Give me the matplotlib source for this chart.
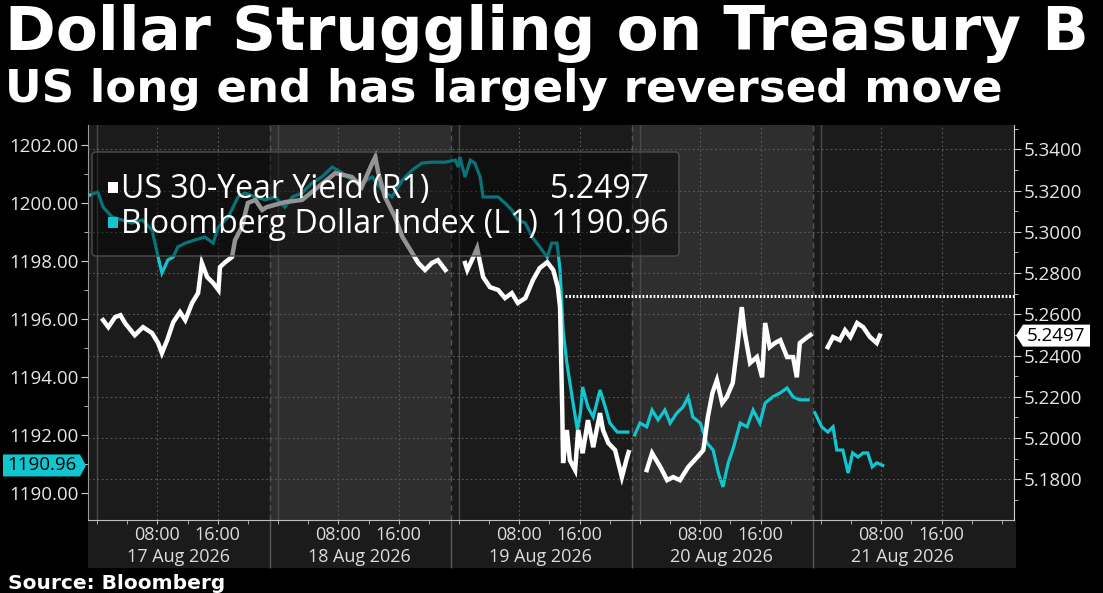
import numpy as np
import matplotlib
matplotlib.use("Agg")
from matplotlib import pyplot as plt
from matplotlib import transforms
from matplotlib.patches import Rectangle, FancyBboxPatch, Polygon
from matplotlib.ticker import MultipleLocator, FormatStrFormatter

plt.rcParams['font.family'] = ['Open Sans', 'DejaVu Sans']

nan = float("nan")

# hours since 17 Aug 2026 00:00
yield_hours = [0.8, 1.5, 2.4, 3.1, 3.7, 5.0, 6.1, 7.3, 8.1, 8.6, 9.3, 10.1, 11.0, 11.7,
               12.6, 13.4, 13.9, 14.6, 15.4, 16.1, 16.3, 17.0, 17.9, 18.3, 19.2, 20.0,
               21.0, 21.9, 22.5, 24.9, 27.2, 29.3, 31.6, 33.8, 35.1, 36.5, 36.9, 37.3,
               38.2, 39.5, 40.5, 41.8, 42.6, 43.5, 44.4, 45.2, 46.2,
               47.5,
               48.8, 49.1, 49.9, 50.4, 50.8, 51.2, 52.1, 53.2, 54.1, 55.0, 55.8, 56.8,
               57.8, 58.7, 59.7, 60.5, 61.1, 61.4, 61.7, 61.8, 62.3, 62.7, 63.4, 63.8,
               64.4, 65.1, 65.8, 66.7, 67.1, 67.8, 68.7, 69.6, 70.3, 70.5,
               71.5,
               72.9, 73.6, 74.7, 75.6, 76.4, 77.3, 78.4, 79.6, 80.4, 81.0, 81.6, 82.2,
               82.9, 83.5, 84.3, 84.9, 85.5, 85.9, 86.6, 87.5, 88.2, 88.6, 89.2, 89.9,
               90.6, 91.5, 92.3, 92.8, 93.2, 94.2, 94.6,
               95.5,
               96.9, 97.6, 98.5, 99.2, 99.9, 100.8, 101.6, 102.5, 103.4, 103.8]
yield_vals = [5.2572, 5.2538, 5.2587, 5.2596, 5.2558, 5.2499, 5.2538, 5.2509, 5.2461,
              5.2412, 5.2475, 5.2562, 5.2611, 5.2572, 5.2655, 5.2703, 5.2849, 5.2781,
              5.2752, 5.2718, 5.2829, 5.2853, 5.2878, 5.2960, 5.3023, 5.3140, 5.3155,
              5.3106, 5.3120, 5.3144, 5.3155, 5.3217, 5.3285, 5.3266, 5.3217, 5.3333,
              5.3363, 5.3285, 5.3168, 5.3072, 5.2975, 5.2897, 5.2849, 5.2815, 5.2849,
              5.2863, 5.2815,
              nan,
              5.2849, 5.2815, 5.2878, 5.2921, 5.2849, 5.2781, 5.2732, 5.2718, 5.2679,
              5.2703, 5.2655, 5.2679, 5.2766, 5.2824, 5.2853, 5.2815, 5.2732, 5.2635,
              5.2121, 5.1879, 5.2039, 5.1893, 5.1845, 5.2039, 5.1927, 5.2087, 5.1956,
              5.2121, 5.2039, 5.1976, 5.1942, 5.1811, 5.1908, 5.1932,
              nan,
              5.1845, 5.1927, 5.1860, 5.1796, 5.1811, 5.1796, 5.1860, 5.1908, 5.1942,
              5.2102, 5.2218, 5.2281, 5.2170, 5.2199, 5.2267, 5.2441, 5.2635, 5.2509,
              5.2364, 5.2393, 5.2295, 5.2558, 5.2441, 5.2461, 5.2475, 5.2393, 5.2393,
              5.2295, 5.2461, 5.2490, 5.2500,
              nan,
              5.2441, 5.2490, 5.2475, 5.2523, 5.2490, 5.2558, 5.2538, 5.2490, 5.2461,
              5.2497]

usd_hours = [-0.9, 0.1, 0.8, 2.0, 3.3, 4.6, 6.0, 7.3, 8.1, 8.6, 9.4, 10.1, 10.7, 11.7,
             13.0, 14.3, 15.4, 16.1, 17.4, 18.7, 19.6, 21.0, 22.3, 23.6, 24.9, 25.9,
             27.2, 28.5, 29.8, 31.2, 32.5, 33.8, 35.1, 36.5, 37.8, 39.1, 40.5, 41.8,
             43.1, 44.4, 46.2, 47.5, 47.9, 48.1, 48.8, 49.5, 50.1, 50.8, 51.2, 52.1,
             53.2, 54.1, 55.0, 55.8, 56.8, 57.7, 58.7, 59.7, 60.3, 61.0, 61.4, 61.8,
             62.3, 63.0, 63.7, 64.1, 64.4, 65.1, 65.8, 66.7, 67.4, 68.0, 69.0, 70.4,
             70.9,
             71.3, 72.0, 72.9, 73.6, 74.4, 75.3, 76.0, 76.9, 77.7, 78.4, 79.0, 80.0,
             80.9, 81.7, 82.4, 83.0, 83.7, 84.3, 85.3, 86.2, 87.0, 87.9, 88.6, 89.6,
             90.6, 91.5, 92.3, 93.2, 94.3,
             94.8,
             95.2, 96.1, 96.9, 97.6, 98.1, 98.9, 99.6, 100.2, 100.9, 101.6, 102.2,
             102.8, 103.4, 104.2]
usd_vals = [1200.28, 1200.38, 1199.86, 1199.52, 1199.42, 1199.31, 1199.42, 1199.07,
            1198.14, 1197.59, 1198.04, 1198.14, 1198.49, 1198.62, 1198.73, 1198.83,
            1198.62, 1199.18, 1199.52, 1200.21, 1200.35, 1200.21, 1200.11, 1200.21,
            1199.86, 1200.21, 1200.35, 1200.69, 1200.90, 1201.24, 1201.04, 1200.79,
            1200.69, 1200.90, 1200.45, 1200.21, 1200.79, 1201.14, 1201.38, 1201.41,
            1201.41, 1201.48, 1201.24, 1201.59, 1200.90, 1201.48, 1201.38, 1200.90,
            1200.21, 1200.21, 1200.21, 1200.00, 1199.76, 1199.42, 1199.31, 1198.83,
            1198.49, 1198.14, 1198.62, 1198.62, 1197.69, 1195.63, 1194.49, 1193.32,
            1192.18, 1192.77, 1193.66, 1192.97, 1192.63, 1193.56, 1192.97, 1192.42,
            1192.11, 1192.11,
            nan,
            1192.01, 1192.42, 1192.29, 1192.87, 1192.53, 1192.87, 1192.42, 1192.77,
            1192.97, 1193.32, 1192.63, 1192.42, 1191.73, 1191.49, 1190.70, 1190.22,
            1191.05, 1191.49, 1192.42, 1192.29, 1192.87, 1192.42, 1193.11, 1193.32,
            1193.46, 1193.63, 1193.32, 1193.22, 1193.22,
            nan,
            1192.77, 1192.29, 1192.11, 1192.29, 1191.49, 1191.49, 1190.70, 1191.39,
            1191.25, 1191.39, 1191.39, 1190.91, 1191.05, 1190.96]

last_yield = 5.2497
last_usd = 1190.96
level_line = 5.2689
level_from = 62.1

day_labels = ["17 Aug 2026", "18 Aug 2026", "19 Aug 2026", "20 Aug 2026", "21 Aug 2026"]
hour_labels = ["08:00", "16:00"]
session_breaks = [23, 47, 71, 95]
light_sessions = [(23, 47), (71, 95)]

W, H = 1103, 593
cyan = '#12c6cf'
grid_c = '#5c5c5c'

fig = plt.figure(figsize=(W / 100, H / 100), dpi=100, facecolor='black')
ax = fig.add_axes([88 / W, 1 - 520 / H, 926 / W, 395 / H])
ax2 = ax.twinx()

ax.set_facecolor('#1b1b1b')
for a, b in light_sessions:
    ax.axvspan(a, b, color='#2e2e2e', zorder=0, lw=0)

ax.set_xlim(-1.2, 121.6)
ax.set_ylim(1189.08, 1202.69)
ax2.set_ylim(5.1603, 5.3518)

# x axis
days = np.arange(len(day_labels)) * 24
major = sorted([d + 8 for d in days] + [d + 16 for d in days])
ax.set_xticks(major)
ax.set_xticklabels(hour_labels * len(day_labels))
ax.xaxis.set_minor_locator(MultipleLocator(4))
ax.tick_params(axis='x', which='both', colors='#bdbdbd', labelcolor='#dcdcdc',
               labelsize=13, length=3, pad=1)
ax.grid(axis='x', which='major', color=grid_c, ls=(0, (1.5, 2.5)), lw=0.8)
for d in days:
    ax.axvline(d, color='#4a4a4a', lw=1, zorder=1)
for b in session_breaks:
    ax.axvline(b, color='#555555', lw=1, ls=(0, (4, 3)), zorder=1)

blend = transforms.blended_transform_factory(ax.transData, ax.transAxes)
for d, lab in zip(days, day_labels):
    ax.text(d + 10.75, -0.094, lab, transform=blend, ha='center', va='center',
            fontsize=13, color='#dcdcdc')
ax.vlines(session_breaks, -0.1215, 0, transform=blend, clip_on=False,
          color='#5a5a5a', lw=1)

# left axis: dollar index
ax.yaxis.set_major_locator(MultipleLocator(2))
ax.yaxis.set_minor_locator(MultipleLocator(1))
ax.yaxis.set_major_formatter(FormatStrFormatter('%.2f'))
ax.tick_params(axis='y', which='both', colors='#cfcfcf', labelcolor='#e6e6e6',
               labelsize=13.5, length=5, pad=2)
ax.tick_params(axis='y', which='minor', length=3)

# right axis: yield
ax2.yaxis.set_major_locator(MultipleLocator(0.02))
ax2.yaxis.set_minor_locator(MultipleLocator(0.01))
ax2.yaxis.set_major_formatter(FormatStrFormatter('%.4f'))
ax2.tick_params(axis='y', which='both', colors='#cfcfcf', labelcolor='#e6e6e6',
                labelsize=13.5, length=5, pad=2)
ax2.tick_params(axis='y', which='minor', length=3)
ax2.grid(axis='y', which='major', color=grid_c, ls=(0, (1.5, 2.5)), lw=0.8)

for s in ['top', 'right']:
    ax.spines[s].set_visible(False)
for s in ['top', 'left', 'bottom']:
    ax2.spines[s].set_visible(False)
ax.spines['left'].set_color('#9a9a9a')
ax.spines['bottom'].set_color('#bdbdbd')
ax2.spines['right'].set_color('#cfcfcf')

ax.plot(usd_hours, usd_vals, color=cyan, lw=2.3, zorder=3, solid_joinstyle='miter')
ax2.plot(yield_hours, yield_vals, color='white', lw=3.2, zorder=3, solid_joinstyle='miter')
ax2.hlines(level_line, level_from, 121.6, color='white', lw=2.2, ls=(0, (0.6, 0.6)))

# axis band under the plot
fig.add_artist(Rectangle((88, H - 568), 928, 48, transform=transforms.IdentityTransform(),
                         fc='#1b1b1b', ec='none', zorder=-1))

# value tags
ident = transforms.IdentityTransform()
x0, y0 = ax.transData.transform((-1.2, last_usd))
fig.add_artist(Polygon([(x0 - 85, y0 - 11), (x0 - 8, y0 - 11), (x0 - 2, y0),
                        (x0 - 8, y0 + 11), (x0 - 85, y0 + 11)], closed=True,
                       transform=ident, fc=cyan, ec='none', zorder=5))
fig.text(x0 - 46, y0, "%.2f" % last_usd, transform=ident, ha='center', va='center',
         fontsize=13.5, color='black', zorder=6)
x1, y1 = ax2.transData.transform((121.6, last_yield))
fig.add_artist(Polygon([(x1 + 2, y1), (x1 + 9, y1 - 11), (x1 + 76, y1 - 11),
                        (x1 + 76, y1 + 11), (x1 + 9, y1 + 11)], closed=True,
                       transform=ident, fc='white', ec='none', zorder=5))
fig.text(x1 + 42, y1, "%.4f" % last_yield, transform=ident, ha='center', va='center',
         fontsize=13.5, color='black', zorder=6)

# legend box
fig.add_artist(FancyBboxPatch((92, H - 256), 587, 104, boxstyle="round,pad=0,rounding_size=4",
                              transform=ident, fc=(0, 0, 0, 0.42), ec='#4e4e4e', lw=1, zorder=4))
fig.add_artist(Rectangle((108, H - 193), 10, 11, transform=ident, fc='white', ec='none', zorder=5))
fig.add_artist(Rectangle((108, H - 228), 10, 11, transform=ident, fc=cyan, ec='none', zorder=5))
fig.text(121, H - 198, "US 30-Year Yield (R1)", transform=ident, fontsize=23,
         color='white', va='baseline', zorder=6)
fig.text(550, H - 198, "%.4f" % last_yield, transform=ident, fontsize=23,
         color='white', va='baseline', zorder=6)
fig.text(121, H - 233, "Bloomberg Dollar Index (L1)", transform=ident, fontsize=23,
         color='white', va='baseline', zorder=6)
fig.text(550, H - 233, "%.2f" % last_usd, transform=ident, fontsize=23,
         color='white', va='baseline', zorder=6)

# titles
fig.text(5 / W, 1 - 50 / H, "Dollar Struggling on Treasury B", fontsize=44,
         fontweight='bold', family='DejaVu Sans', color='white', va='baseline')
fig.text(5 / W, 1 - 102 / H, "US long end has largely reversed move", fontsize=32.5,
         fontweight='bold', family='DejaVu Sans', color='white', va='baseline')
fig.text(8 / W, 1 - 589 / H, "Source: Bloomberg", fontsize=14.5, fontweight='bold',
         family='DejaVu Sans', color='white', va='baseline')

fig.savefig("out.png", dpi=100, facecolor='black')
plt.close()
